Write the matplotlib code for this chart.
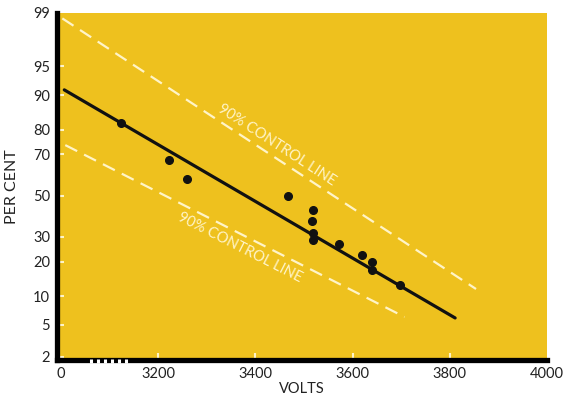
from statistics import NormalDist

import numpy as np
import matplotlib
matplotlib.use('Agg')
import matplotlib.pyplot as plt
import matplotlib.transforms as mtransforms

plt.rcParams['font.family'] = ['Lato', 'DejaVu Sans']

# measured points (volts, per cent)
volts = [3124, 3223, 3259, 3467, 3518, 3516, 3518, 3518, 3573, 3620, 3641, 3641, 3698]
percent = [82.2, 67.5, 58.4, 49.8, 42.7, 37.3, 31.7, 28.6, 26.9, 22.5, 19.9, 17.2, 12.7]

# fitted line and 90% control lines (end points)
fit_volts = [3007, 3811]
fit_pct = [91.1, 5.95]
upper_volts = [3003, 3854]
upper_pct = [98.8, 11.7]
lower_volts = [3009, 3707]
lower_pct = [74.0, 6.1]

x_ticks = [3000, 3200, 3400, 3600, 3800, 4000]
x_labels = ['0', '3200', '3400', '3600', '3800', '4000']
y_ticks = [2, 5, 10, 20, 30, 50, 70, 80, 90, 95, 99]

nd = NormalDist()


def to_z(p):
    p = np.asarray(p, dtype=float)
    f = np.vectorize(lambda v: nd.inv_cdf(min(max(v / 100.0, 1e-9), 1 - 1e-9)),
                     otypes=[float])
    return f(p)


def from_z(z):
    z = np.asarray(z, dtype=float)
    f = np.vectorize(lambda v: 100.0 * nd.cdf(v), otypes=[float])
    return f(z)


yellow = '#EEC11E'
cream = '#FFF4C8'

fig = plt.figure(figsize=(5.79, 3.97), dpi=100)
ax = fig.add_axes([57 / 579, 1 - 360 / 397, 490 / 579, 347 / 397])
ax.set_facecolor(yellow)
ax.set_yscale('function', functions=(to_z, from_z))
ax.set_xlim(2992, 4000)
ax.set_ylim(1.81, 99)

ax.plot(upper_volts, upper_pct, color=cream, lw=1.6, dashes=(6, 3.5))
ax.plot(lower_volts, lower_pct, color=cream, lw=1.6, dashes=(6, 3.5))
ax.plot(fit_volts, fit_pct, color='#111111', lw=2.3, solid_capstyle='round')
ax.plot(volts, percent, 'o', color='#111111', ms=5.5)

ax.text(3444, 74.0, '90% CONTROL LINE', rotation=-33, color=cream,
        fontsize=10.5, ha='center', va='center', rotation_mode='anchor')
ax.text(3368, 25.2, '90% CONTROL LINE', rotation=-27, color=cream,
        fontsize=10.5, ha='center', va='center', rotation_mode='anchor')

for side in ['top', 'right']:
    ax.spines[side].set_visible(False)
for side in ['left', 'bottom']:
    ax.spines[side].set_linewidth(3.8)
    ax.spines[side].set_color('black')

ax.set_xticks(x_ticks, x_labels)
ax.set_yticks(y_ticks, [str(t) for t in y_ticks])
ax.minorticks_off()
ax.tick_params(axis='both', direction='in', color=cream, length=5, width=1.5,
               labelsize=10.5, pad=5, labelcolor='#222222')
ax.xaxis.get_major_ticks()[0].tick1line.set_visible(False)
ax.xaxis.get_major_ticks()[-1].tick1line.set_visible(False)
ax.yaxis.get_major_ticks()[-1].tick1line.set_visible(False)

# axis break marks on the bottom line
trans = mtransforms.blended_transform_factory(ax.transData, ax.transAxes)
for xb in np.linspace(3062, 3134, 6):
    ax.plot([xb, xb], [-0.008, 0.004], color='white', lw=2.2, zorder=5,
            transform=trans, clip_on=False, solid_capstyle='butt')

ax.set_xlabel('VOLTS', fontsize=10.5, labelpad=1, color='#222222')
ax.set_ylabel('PER CENT', fontsize=11.5, labelpad=10, color='#222222')

fig.savefig('out.png', dpi=100, facecolor='white')
